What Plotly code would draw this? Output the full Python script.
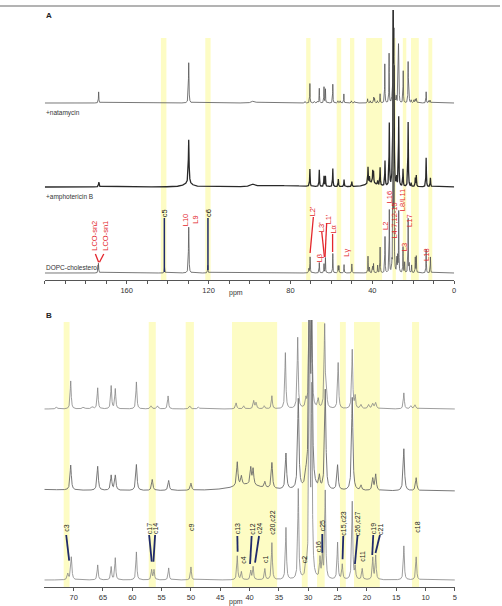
import numpy as np
import plotly.graph_objects as go

# ---------------- data: peak lists (ppm, height in panel-B px units, half width ppm) -------------
dopc_ppm = [173.8, 141.5, 129.7, 120.4, 71.0, 70.4, 65.9, 63.6, 62.9, 59.3, 56.7, 56.3, 53.8, 50.0,
            42.1, 41.4, 39.8, 39.4, 37.4, 36.2, 33.8, 31.7, 30.4, 29.8, 29.4, 28.0, 27.6, 27.1,
            25.0, 24.2, 22.5, 22.0, 20.8, 19.0, 18.5, 13.7, 11.6]
dopc_h = [14, 8, 66, 11, 6, 23, 15, 13, 22, 28, 10, 10, 12, 13,
          24, 8, 9, 13, 11, 37, 52, 90, 12, 290, 180, 20, 22, 88,
          37, 15, 78, 12, 11, 22, 24, 34, 23]
dopc_w = [0.15, 0.12, 0.15, 0.12, 0.12, 0.12, 0.1, 0.1, 0.1, 0.1, 0.1, 0.1, 0.1, 0.1,
          0.1, 0.1, 0.1, 0.1, 0.1, 0.1, 0.1, 0.1, 0.1, 0.1, 0.1, 0.1, 0.1, 0.1,
          0.1, 0.1, 0.1, 0.1, 0.1, 0.1, 0.1, 0.1, 0.1]

amph_ppm = [173.6, 130.0, 129.7, 98.0, 80.0, 70.5, 65.9, 63.6, 62.9, 59.3, 56.6, 53.8, 50.0,
            42.1, 41.4, 40.5, 39.8, 39.4, 37.4, 36.2, 33.8, 31.7, 30.4, 29.8, 29.4, 28.1,
            27.1, 25.0, 22.5, 21.0, 19.0, 18.5, 13.7, 11.6]
amph_h = [7, 5, 63, 4, 2, 25, 24, 15, 15, 26, 11, 10, 7,
          24, 9, 6, 17, 16, 6, 26, 36, 90, 10, 250, 150, 12,
          100, 25, 93, 5, 12, 16, 42, 13]
amph_w = [0.2, 2.5, 0.2, 1.5, 8.0, 0.13, 0.13, 0.13, 0.13, 0.13, 0.13, 0.13, 0.13,
          0.13, 0.13, 3.0, 0.13, 0.13, 0.13, 0.13, 0.13, 0.13, 0.13, 0.13, 0.13, 0.13,
          0.13, 0.13, 0.13, 0.13, 0.13, 0.13, 0.13, 0.13]

nata_ppm = [173.7, 129.7, 98.0, 72.9, 70.5, 68.3, 66.8, 65.9, 63.6, 62.9, 59.3, 56.8, 55.7,
            53.9, 50.2, 48.7, 42.3, 41.0, 39.3, 38.9, 37.5, 36.2, 33.9, 31.8, 30.4, 29.8,
            29.4, 28.3, 27.2, 26.9, 24.9, 22.5, 22.0, 21.0, 19.7, 19.0, 18.5, 13.7, 12.5, 11.8]
nata_h = [16, 58, 3, 2, 28, 2, 2, 21, 23, 20, 27, 3, 3,
          13, 3, 2, 6, 3, 8, 6, 3, 13, 56, 71, 8, 131,
          100, 9, 83, 18, 46, 59, 12, 4, 4, 5, 6, 16, 3, 4]
nata_w = [0.12, 0.15, 1.0, 0.15, 0.1, 0.2, 0.2, 0.1, 0.1, 0.1, 0.1, 0.15, 0.15,
          0.1, 0.15, 0.15, 0.12, 0.12, 0.12, 0.12, 0.12, 0.1, 0.1, 0.1, 0.1, 0.1,
          0.1, 0.12, 0.1, 0.1, 0.1, 0.1, 0.1, 0.15, 0.15, 0.15, 0.15, 0.1, 0.15, 0.15]

sample_names = ["+natamycin", "+amphotericin B", "DOPC-cholesterol"]

# axis tick labels
ticks_A = [160, 120, 80, 40, 0]
minor_A = list(range(0, 201, 10))
ticks_B = [70, 65, 60, 55, 50, 45, 40, 35, 30, 25, 20, 15, 10, 5]

# highlighted regions (ppm)
bands_A = [(143.3, 140.6), (121.6, 119.0), (72.3, 70.2), (57.4, 55.2), (50.9, 48.8),
           (43.0, 35.2), (30.1, 28.5), (25.1, 23.4), (21.1, 17.3), (12.6, 10.7)]
bands_B = [(71.7, 70.7), (57.2, 56.0), (50.9, 49.5), (43.0, 35.3), (31.1, 30.1),
           (28.5, 27.2), (24.6, 23.6), (22.2, 17.8), (12.3, 11.1)]

# assignment labels: (text, ppm, y, colour)
labels_A = [("LCO-sn2", 176.1, 44, "red"), ("LCO-sn1", 170.7, 44, "red"),
            ("c5", 141.6, 67, "black"), ("L10", 131.4, 60, "red"), ("L9", 126.8, 60, "red"),
            ("c6", 120.3, 67, "black"), ("L2'", 69.3, 69, "red"), ("Lβ", 65.9, 22, "red"),
            ("L3'", 65.0, 53, "red"), ("L1'", 61.5, 61, "red"), ("Lα", 59.4, 51, "red"),
            ("Lγ", 53.0, 27, "red"), ("L2", 33.8, 54, "red"), ("L16", 31.7, 83, "red"),
            ("L4-7,12-15", 29.6, 59, "red"), ("L8/L11", 25.4, 80, "red"), ("L3", 24.4, 33, "red"),
            ("L17", 22.1, 60, "red"), ("L18", 13.8, 26, "red")]
lines_A = [(175.3, 26, 173.7, 17.7, "red"), (171.2, 26, 173.3, 17.7, "red"),
           (141.6, 62, 141.6, 8, "navy"), (120.3, 62, 120.3, 10, "navy"),
           (68.8, 63, 70.4, 27, "red"), (64.7, 48, 63.4, 23, "red"),
           (62.3, 57, 63.1, 23, "red"), (59.4, 46, 59.4, 28, "red")]

labels_B = [("c3", 71.27, 59.5), ("c17", 57.13, 58), ("c14", 56.11, 58), ("c9", 49.97, 60),
            ("c13", 42.09, 58), ("c4", 41.07, 27.5), ("c12", 39.65, 58), ("c24", 38.39, 58),
            ("c1", 37.37, 28), ("c20,c22", 36.12, 64.5), ("c2", 30.67, 28), ("c16", 28.29, 40),
            ("c25", 27.61, 61), ("c15,c23", 24.03, 63.5), ("c26,c27", 21.59, 63.5),
            ("c11", 20.79, 30.5), ("c19", 18.92, 58), ("c21", 17.78, 58), ("c18", 11.42, 59.5)]
lines_B = [(71.27, 52, 70.76, 26.3), (57.13, 52, 56.69, 25.3), (56.11, 52, 56.40, 25.3),
           (42.09, 51, 42.04, 35.3), (39.65, 51, 39.92, 23), (38.39, 51, 39.07, 24.3),
           (27.61, 53, 27.61, 34.3), (24.03, 51, 24.15, 27.7), (21.59, 52, 22.04, 23),
           (18.92, 52, 19.09, 32), (17.78, 52, 18.53, 34)]

# ---------------- rendering helpers ----------------
def spectrum(x, ppm, h, w):
    x = x[:, None]
    p = np.asarray(ppm)[None, :]
    hh = np.asarray(h, float)[None, :]
    ww = np.asarray(w, float)[None, :]
    return (hh * ww ** 2 / ((x - p) ** 2 + ww ** 2)).sum(axis=1)

W, H = 502, 606
def px(v):  # horizontal pixel -> paper
    return v / W
def py(v):  # vertical pixel -> paper
    return 1 - v / H

xA = np.arange(0, 200.0001, 0.02)
xB = np.arange(5, 75.0001, 0.01)
scaleA = 1 / 1.44

samples = [(nata_ppm, nata_h, nata_w), (amph_ppm, amph_h, amph_w), (dopc_ppm, dopc_h, dopc_w)]
offA = [177, 93, 7]
offB = [178, 96, 7]
styleA = [dict(color="#555", width=0.8), dict(color="#2a2a2a", width=1.3), dict(color="#555", width=0.8)]
styleB = [dict(color="#858585", width=0.8), dict(color="#6a6a6a", width=0.9), dict(color="#858585", width=0.8)]

fig = go.Figure()
for (pp, hh, ww), oa, ob, sa, sb, nm in zip(samples, offA, offB, styleA, styleB, sample_names):
    yA = oa + scaleA * spectrum(xA, pp, hh, ww)
    yB = ob + spectrum(xB, pp, hh, ww)
    fig.add_trace(go.Scatter(x=xA, y=np.round(yA, 2), mode="lines", line=sa, name=nm,
                             xaxis="x", yaxis="y", hoverinfo="skip"))
    fig.add_trace(go.Scatter(x=xB, y=np.round(yB, 2), mode="lines", line=sb, name=nm,
                             xaxis="x2", yaxis="y2", hoverinfo="skip"))

shapes = []
band_col = "#fdfcc4"
for a, b in bands_A:
    shapes.append(dict(type="rect", xref="x", yref="y", x0=a, x1=b, y0=0, y1=242,
                       fillcolor=band_col, line=dict(width=0), layer="below"))
for a, b in bands_B:
    shapes.append(dict(type="rect", xref="x2", yref="y2", x0=a, x1=b, y0=0, y1=265,
                       fillcolor=band_col, line=dict(width=0), layer="below"))
colmap = {"red": "#e3262d", "navy": "#1f2a6b", "black": "#111"}
for x0, y0, x1, y1, c in lines_A:
    shapes.append(dict(type="line", xref="x", yref="y", x0=x0, y0=y0, x1=x1, y1=y1,
                       line=dict(color=colmap[c], width=1.5 if c == "navy" else 1.3)))
for x0, y0, x1, y1 in lines_B:
    shapes.append(dict(type="line", xref="x2", yref="y2", x0=x0, y0=y0, x1=x1, y1=y1,
                       line=dict(color=colmap["navy"], width=1.8)))
shapes.append(dict(type="line", xref="paper", yref="paper", x0=0, x1=1, y0=py(6), y1=py(6),
                   line=dict(color="#9a9a9a", width=1.5)))

ann = []
FONT = "Liberation Sans, Arial, sans-serif"
for t, xp, yv, c in labels_A:
    ann.append(dict(text=t, x=xp, y=yv, xref="x", yref="y", textangle=-90, showarrow=False,
                    xanchor="center", yanchor="middle",
                    font=dict(family=FONT, size=7.5, color=colmap[c])))
for t, xp, yv in labels_B:
    ann.append(dict(text=t, x=xp, y=yv, xref="x2", yref="y2", textangle=-90, showarrow=False,
                    xanchor="center", yanchor="middle",
                    font=dict(family=FONT, size=7, color="#222")))
ann.append(dict(text="<b>A</b>", x=px(44), y=py(16), xref="paper", yref="paper", showarrow=False,
                xanchor="left", yanchor="middle", font=dict(family=FONT, size=8, color="#222")))
ann.append(dict(text="<b>B</b>", x=px(44), y=py(315), xref="paper", yref="paper", showarrow=False,
                xanchor="left", yanchor="middle", font=dict(family=FONT, size=8, color="#222")))
for nm, yy in zip(sample_names, [113, 197, 267.5]):
    ann.append(dict(text=nm, x=px(44), y=py(yy), xref="paper", yref="paper", showarrow=False,
                    xanchor="left", yanchor="middle", font=dict(family=FONT, size=6.5, color="#333")))
ann.append(dict(text="ppm", x=px(237), y=py(292.5), xref="paper", yref="paper", showarrow=False,
                xanchor="center", yanchor="middle", font=dict(family=FONT, size=7, color="#333")))
ann.append(dict(text="ppm", x=px(237), y=py(601.5), xref="paper", yref="paper", showarrow=False,
                xanchor="center", yanchor="middle", font=dict(family=FONT, size=7, color="#333")))

axis_common = dict(showgrid=False, zeroline=False, showline=True, linecolor="#555", linewidth=1,
                   ticks="outside", ticklen=3, tickcolor="#555", tickwidth=1,
                   tickfont=dict(family=FONT, size=7.5, color="#333"))
fig.update_layout(
    width=W, height=H, margin=dict(l=0, r=0, t=0, b=0),
    paper_bgcolor="white", plot_bgcolor="rgba(0,0,0,0)", showlegend=False,
    xaxis=dict(domain=[px(45), px(456)], range=[200, 0], anchor="y",
               tickmode="array", tickvals=ticks_A, ticktext=[str(v) for v in ticks_A],
               minor=dict(tickmode="array", tickvals=minor_A, ticks="outside", ticklen=3,
                          tickcolor="#555"),
               **axis_common),
    yaxis=dict(domain=[py(280), py(10)], range=[0, 270], visible=False, anchor="x"),
    xaxis2=dict(domain=[px(44.5), px(456.7)], range=[75, 5], anchor="y2",
                tickmode="array", tickvals=ticks_B, ticktext=[str(v) for v in ticks_B],
                **axis_common),
    yaxis2=dict(domain=[py(587), py(320)], range=[0, 267], visible=False, anchor="x2"),
    shapes=shapes, annotations=ann,
)
fig.write_html("out.html")
